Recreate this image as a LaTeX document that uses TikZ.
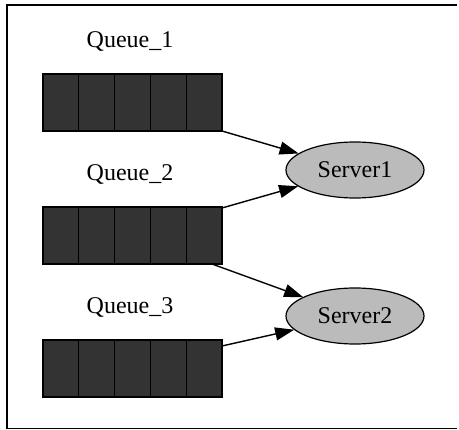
\documentclass[tikz,border=0pt]{standalone}
\usepackage{fontspec}
\setmainfont{Liberation Serif}
\usetikzlibrary{arrows.meta,shapes.geometric,calc}

\definecolor{cellfill}{HTML}{333333}
\definecolor{serverfill}{HTML}{BBBBBB}

\tikzset{
  queuebox/.style={draw=black, fill=cellfill, line width=1.3pt,
    minimum width=179pt, minimum height=57pt, inner sep=0pt, outer sep=0pt},
  qlabel/.style={font=\fontsize{24}{27}\selectfont, inner sep=0pt},
  server/.style={ellipse, draw=black, fill=serverfill, line width=1.2pt,
    minimum width=138pt, minimum height=56pt, inner sep=0pt, outer sep=0pt,
    font=\fontsize{24}{27}\selectfont},
  flow/.style={line width=1.4pt, -{Triangle[length=19pt,width=13pt]}, shorten >=0.5pt},
}

% draws the four inner separators of a five-slot queue
\newcommand{\queuecells}[1]{%
  \foreach \k in {1,...,4}{
    \draw[line width=1.3pt, black]
      ($(#1.north west)!\k/5!(#1.north east)$) -- ($(#1.south west)!\k/5!(#1.south east)$);
  }%
}

\begin{document}
\begin{tikzpicture}[x=1pt,y=-1pt]
  \useasboundingbox (0,0) rectangle (459,430);
  \fill[white] (0,0) rectangle (459,430);

  % outer frame (open on the right)
  \draw[line width=1.8pt] (457,5) -- (7,5) -- (7,428.5) -- (457,428.5);

  % queues
  \node[queuebox] (q1) at (132.5,102.5) {};
  \node[queuebox] (q2) at (132.5,235.5) {};
  \node[queuebox] (q3) at (132.5,368.5) {};
  \queuecells{q1}
  \queuecells{q2}
  \queuecells{q3}

  \node[qlabel] (l1) at (130,42) {Queue\_1};
  \node[qlabel] (l2) at (130,175) {Queue\_2};
  \node[qlabel] (l3) at (130,308) {Queue\_3};

  % servers
  \node[server] (s1) at (355,170) {Server1};
  \node[server] (s2) at (355,316) {Server2};

  % edge start points on the queues
  \coordinate (q1out) at (q1.south east);
  \coordinate (q2up) at ($(q2.north east)+(0,1)$);
  \coordinate (q2down) at ($(q2.south east)+(-10,0)$);
  \coordinate (q3out) at ($(q3.north east)+(0,6)$);

  \draw[flow] (q1out) -- (s1);
  \draw[flow] (q2up) -- (s1);
  \draw[flow] (q2down) -- (s2);
  \draw[flow] (q3out) -- (s2);
\end{tikzpicture}
\end{document}
